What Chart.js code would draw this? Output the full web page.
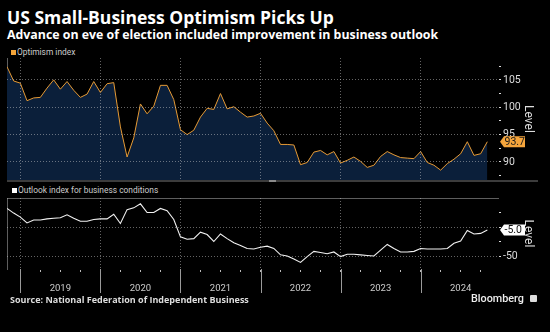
<html>
<head>
<script src="https://cdn.jsdelivr.net/npm/chart.js@4.4.1/dist/chart.umd.min.js"></script>
<style>
  body { margin: 0; background: #000; width: 550px; height: 332px; overflow: hidden; position: relative; font-family: Roboto, "Noto Sans", sans-serif; }
  .abs { position: absolute; white-space: nowrap; }
  #title { left: 7px; top: 5px; font-family: "Open Sans"; font-size: 17.5px; font-weight: 700; color: #fff; }
  #subtitle { left: 7px; top: 26px; font-family: "Open Sans"; font-size: 12.35px; font-weight: 700; color: #fff; }
  .legend { font-size: 8.4px; color: #ccc; }
  .legend span { display: inline-block; width: 5px; height: 5px; margin-right: 1px; vertical-align: 0px; }
  #source { left: 10px; top: 293px; font-family: "Open Sans"; font-size: 9px; font-weight: 700; color: #ddd; }
  #brand { left: 471px; top: 292px; font-size: 10.8px; font-weight: 500; color: #eee; }
  #logo { left: 530px; top: 295px; width: 7px; height: 7px; background: #ddd; border-radius: 1px; }
  #scroll { left: 7px; top: 180px; width: 531px; height: 2px; background: #3c3c3c; }
  #handle { left: 269px; top: 180px; width: 7px; height: 2px; background: #8a8a8a; }
  canvas { position: absolute; }
</style>
</head>
<body>
<div id="title" class="abs">US Small-Business Optimism Picks Up</div>
<div id="subtitle" class="abs">Advance on eve of election included improvement in business outlook</div>
<div class="abs legend" style="left:11px;top:47px"><span style="background:#f2a43a"></span>Optimism index</div>
<div class="abs legend" style="left:12px;top:185px"><span style="background:#fff"></span>Outlook index for business conditions</div>
<canvas id="top" width="543" height="122" style="left:7px;top:58px"></canvas>
<div id="scroll" class="abs"></div>
<div id="handle" class="abs"></div>
<canvas id="bottom" width="543" height="97" style="left:7px;top:198px"></canvas>
<div id="source" class="abs">Source: National Federation of Independent Business</div>
<div id="brand" class="abs">Bloomberg</div>
<div id="logo" class="abs"></div>
<script>
// monthly readings, Oct 2018 .. Oct 2024 (x = months since Oct 2018)
var startMonth = "2018-10";
var optimism = [
  107.4, 104.8, 104.4,
  101.2, 101.7, 101.8, 103.5, 105.0, 103.3, 104.7, 103.1, 101.8, 102.4, 104.7, 102.7,
  104.3, 104.5, 96.4, 90.9, 94.4, 100.6, 98.8, 100.2, 104.0, 104.0, 101.4, 95.9,
  95.0, 95.8, 98.2, 99.8, 99.6, 102.5, 99.7, 100.1, 99.1, 98.2, 98.4, 98.9,
  97.1, 95.7, 93.2, 93.2, 93.1, 89.5, 89.9, 91.8, 92.1, 91.3, 91.9, 89.8,
  90.3, 90.9, 90.1, 89.0, 89.4, 91.0, 91.9, 91.3, 90.8, 90.7, 90.6, 91.9,
  89.9, 89.4, 88.5, 89.7, 90.5, 91.5, 93.7, 91.2, 91.5, 93.7
];
var outlook = [
  32, 24, 17,
  7, 12, 12, 14, 15, 16, 21, 15, 10, 10, 13, 14,
  14, 22, 6, 30, 33, 40, 25, 25, 32, 28, 13, -17,
  -21, -20, -9, -13, -25, -12, -20, -27, -32, -37, -38, -35,
  -33, -37, -48, -50, -55, -61, -51, -42, -44, -46, -43, -51,
  -47, -47, -48, -49, -50, -40, -30, -37, -43, -43, -42, -37,
  -38, -38, -38, -37, -28, -24, -6, -12, -11, -5
];
var yearLabels = ["2019", "2020", "2021", "2022", "2023", "2024"];
var yearStarts = [2, 14, 26, 38, 50, 62];      // month index at each year boundary
var quarterEnds = [2, 5, 8, 11, 14, 17, 20, 23, 26, 29, 32, 35, 38, 41, 44, 47, 50, 53, 56, 59, 62, 65, 68, 71];
var optimismTicks = [87.5, 90, 92.5, 95, 97.5, 100, 102.5, 105, 107.5];
var outlookTicks = [-50, -25, 0, 25];

var gridCol = "rgba(200,200,200,0.5)";
var tickFont = { family: "Roboto", size: 10.5 };

function pts(arr) { return arr.map(function (v, i) { return { x: i, y: v }; }); }

// keep the plot area the full canvas height (labels may overhang)
function fitRight(sc) { sc.width = 52; sc.paddingTop = 0; sc.paddingBottom = 0; }

var lastValueBox = {
  id: "lastValueBox",
  afterDraw: function (chart, args, opts) {
    var c = chart.ctx, y = chart.scales.y.getPixelForValue(opts.value);
    var x = chart.chartArea.right + 2;
    c.save();
    c.fillStyle = opts.bg;
    c.beginPath();
    c.moveTo(x, y);
    c.lineTo(x + 4, y - 5.5);
    c.lineTo(x + 25, y - 5.5);
    c.lineTo(x + 25, y + 5.5);
    c.lineTo(x + 4, y + 5.5);
    c.closePath();
    c.fill();
    c.fillStyle = opts.fg;
    c.font = "10.5px Roboto";
    c.textBaseline = "middle";
    c.fillText(opts.value.toFixed(1), x + 4.5, y + 0.5);
    c.restore();
  }
};

var yearTicks = {
  id: "yearTicks",
  afterDraw: function (chart) {
    var c = chart.ctx, xs = chart.scales.x, b = chart.chartArea.bottom;
    c.save();
    c.strokeStyle = "#9a9a9a";
    c.lineWidth = 1;
    yearStarts.forEach(function (m) {
      var x = Math.round(xs.getPixelForValue(m)) + 0.5;
      c.beginPath();
      c.moveTo(x, b);
      c.lineTo(x, b + 24);
      c.stroke();
    });
    c.restore();
  }
};

new Chart(document.getElementById("top"), {
  type: "line",
  data: {
    datasets: [{
      data: pts(optimism),
      borderColor: "#e69a35",
      borderWidth: 1,
      backgroundColor: "#0b1f3a",
      fill: "start",
      pointRadius: 0,
      tension: 0
    }]
  },
  options: {
    responsive: false, animation: false, devicePixelRatio: 1,
    layout: { padding: 0 },
    plugins: { legend: { display: false }, tooltip: { enabled: false },
      lastValueBox: { value: 93.7, bg: "#f5a53c", fg: "#1a1a1a" } },
    scales: {
      x: {
        type: "linear", min: 0, max: 73.6,
        grid: { z: 1, color: gridCol, drawTicks: false },
        border: { display: false, dash: [1, 2] },
        ticks: { display: false },
        afterBuildTicks: function (sc) { sc.ticks = yearStarts.map(function (v) { return { value: v }; }); },
        afterFit: function (sc) { sc.height = 0; sc.paddingLeft = 0; sc.paddingRight = 0; }
      },
      y: {
        position: "right", min: 86.7, max: 109,
        grid: {
          z: 1, tickLength: 3, tickColor: "#ddd",
          color: function (ctx) { return ctx.tick && ctx.tick.value % 5 === 0 ? gridCol : "transparent"; }
        },
        border: { display: true, color: "#bbb", dash: [1, 2] },
        ticks: {
          color: "#ddd", font: tickFont, padding: 2, autoSkip: false,
          callback: function (v) { return v % 5 === 0 ? v : ""; }
        },
        afterBuildTicks: function (sc) { sc.ticks = optimismTicks.map(function (v) { return { value: v }; }); },
        afterFit: fitRight,
        title: { display: true, text: "Level", color: "#ddd", font: { family: "Roboto", size: 12 }, padding: { top: 15, bottom: 0 } }
      }
    }
  },
  plugins: [lastValueBox]
});

new Chart(document.getElementById("bottom"), {
  type: "line",
  data: {
    datasets: [{
      data: pts(outlook),
      borderColor: "#f2f2f2",
      borderWidth: 1.1,
      fill: false,
      pointRadius: 0,
      tension: 0
    }]
  },
  options: {
    responsive: false, animation: false, devicePixelRatio: 1,
    layout: { padding: 0 },
    plugins: { legend: { display: false }, tooltip: { enabled: false },
      lastValueBox: { value: -5.0, bg: "#ffffff", fg: "#111" } },
    scales: {
      x: {
        type: "linear", min: 0, max: 73.6,
        grid: {
          z: 1, tickLength: 3, tickColor: "#bbb",
          color: function (ctx) { return ctx.tick && yearStarts.indexOf(ctx.tick.value) >= 0 ? gridCol : "transparent"; }
        },
        border: { display: true, color: "#bbb", dash: [1, 2] },
        ticks: {
          color: "#ccc", font: { family: "Roboto", size: 9.5 }, padding: 10.5,
          maxRotation: 0, autoSkip: false,
          callback: function (v) { return v % 12 === 8 ? yearLabels[(v - 8) / 12] : ""; }
        },
        afterBuildTicks: function (sc) { sc.ticks = quarterEnds.map(function (v) { return { value: v }; }); },
        afterFit: function (sc) { sc.height = 26; sc.paddingLeft = 0; sc.paddingRight = 0; }
      },
      y: {
        position: "right", min: -72.4, max: 50,
        grid: {
          z: 1, tickLength: 3, tickColor: "#ddd",
          color: function (ctx) { return ctx.tick && ctx.tick.value % 50 === 0 ? gridCol : "transparent"; }
        },
        border: { display: true, color: "#bbb", dash: [1, 2] },
        ticks: {
          color: "#ddd", font: tickFont, padding: 2, autoSkip: false,
          // the 0 label sits under the last-value box, so only -50 is written
          callback: function (v) { return v === -50 ? v : ""; }
        },
        afterBuildTicks: function (sc) { sc.ticks = outlookTicks.map(function (v) { return { value: v }; }); },
        afterFit: fitRight,
        title: { display: true, text: "Level", color: "#ddd", font: { family: "Roboto", size: 12 }, padding: { top: 15, bottom: 0 } }
      }
    }
  },
  plugins: [lastValueBox, yearTicks]
});
</script>
</body>
</html>
